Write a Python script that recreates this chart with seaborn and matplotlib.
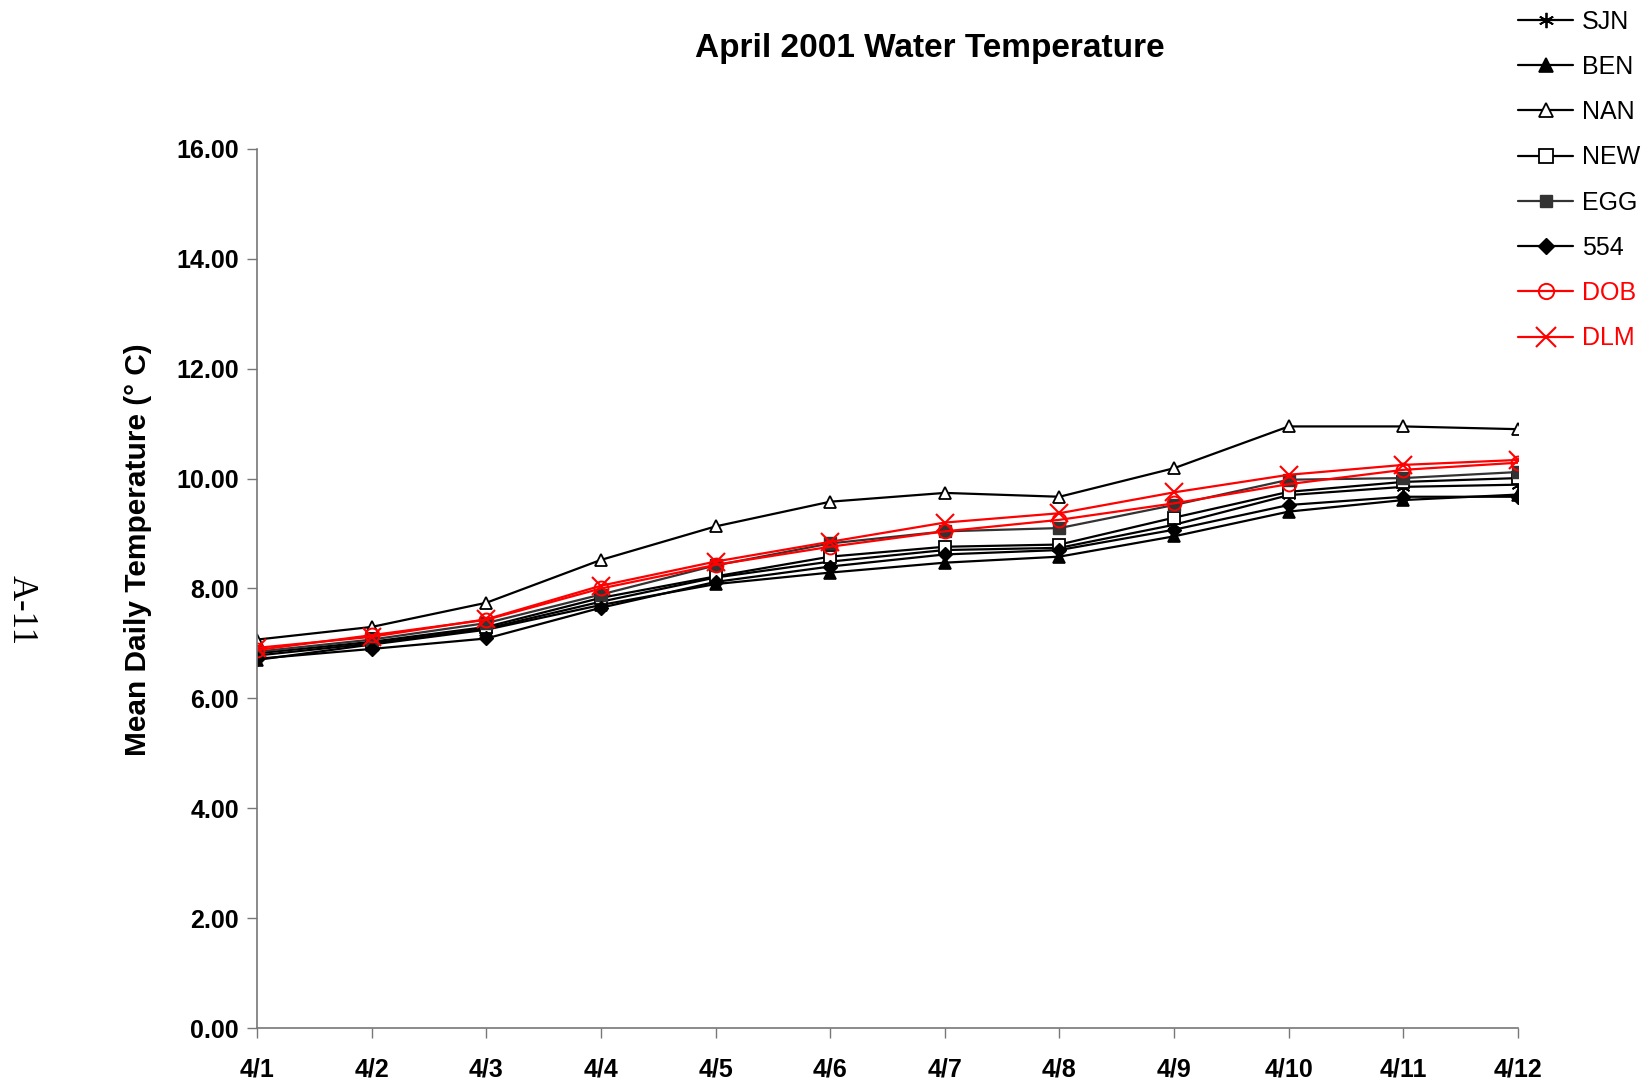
import matplotlib
matplotlib.use("Agg")
import matplotlib.pyplot as plt
import seaborn as sns
import pandas as pd

days = ["4/1", "4/2", "4/3", "4/4", "4/5", "4/6", "4/7", "4/8", "4/9", "4/10", "4/11", "4/12"]

sjn = [6.78, 7.00, 7.27, 7.76, 8.20, 8.49, 8.70, 8.74, 9.16, 9.70, 9.85, 9.89]
ben = [6.70, 6.98, 7.25, 7.70, 8.08, 8.29, 8.47, 8.58, 8.95, 9.40, 9.61, 9.71]
nan_ = [7.07, 7.30, 7.74, 8.52, 9.13, 9.58, 9.74, 9.67, 10.19, 10.95, 10.95, 10.90]
new = [6.82, 7.03, 7.30, 7.83, 8.22, 8.58, 8.76, 8.80, 9.29, 9.76, 9.94, 10.01]
egg = [6.85, 7.07, 7.37, 7.89, 8.42, 8.82, 9.04, 9.10, 9.52, 9.98, 10.01, 10.12]
s554 = [6.72, 6.90, 7.09, 7.65, 8.12, 8.40, 8.62, 8.70, 9.07, 9.52, 9.67, 9.67]
dob = [6.88, 7.15, 7.43, 8.00, 8.43, 8.76, 9.04, 9.25, 9.55, 9.90, 10.16, 10.29]
dlm = [6.92, 7.12, 7.44, 8.05, 8.49, 8.85, 9.20, 9.37, 9.75, 10.07, 10.25, 10.34]

names = ["SJN", "BEN", "NAN", "NEW", "EGG", "554", "DOB", "DLM"]
values = [sjn, ben, nan_, new, egg, s554, dob, dlm]
yticks = [0, 2, 4, 6, 8, 10, 12, 14, 16]

styles = {
    "SJN": dict(color="black", marker=(6, 2, 0), markersize=10, mfc="black", mec="black", mew=1.3),
    "BEN": dict(color="black", marker="^", markersize=9, mfc="black", mec="black", mew=1.2),
    "NAN": dict(color="black", marker="^", markersize=9, mfc="white", mec="black", mew=1.3),
    "NEW": dict(color="black", marker="s", markersize=9, mfc="white", mec="black", mew=1.3),
    "EGG": dict(color="#333333", marker="s", markersize=8, mfc="#333333", mec="#333333", mew=1.0),
    "554": dict(color="black", marker="D", markersize=7, mfc="black", mec="black", mew=1.0),
    "DOB": dict(color="red", marker="o", markersize=10, mfc="none", mec="red", mew=1.4),
    "DLM": dict(color="red", marker="x", markersize=13, mfc="red", mec="red", mew=1.5),
}

sns.set_style("white")
plt.rcParams["font.family"] = ["Liberation Sans", "DejaVu Sans"]
plt.rcParams["text.color"] = "black"
plt.rcParams["axes.labelcolor"] = "black"
plt.rcParams["xtick.color"] = "black"
plt.rcParams["ytick.color"] = "black"

fig = plt.figure(figsize=(16.47, 10.82), dpi=100)
ax = fig.add_axes([0.156, 0.0499, 0.7657, 0.8124])

for name, vals in zip(names, values):
    st = styles[name]
    df = pd.DataFrame({"day": days, "temp": vals})
    sns.lineplot(data=df, x="day", y="temp", ax=ax, label=name, sort=False,
                 color=st["color"], linewidth=1.6, marker=st["marker"],
                 markersize=st["markersize"], markerfacecolor=st["mfc"],
                 markeredgecolor=st["mec"], markeredgewidth=st["mew"])

ax.set_xlim(0, len(days) - 1)
ax.set_ylim(0, 16)
ax.set_yticks(yticks)
ax.set_yticklabels([f"{v:.2f}" for v in yticks], fontweight="bold", fontsize=18)
ax.set_xticks(range(len(days)))
ax.set_xticklabels(days, fontweight="bold", fontsize=18)
ax.tick_params(axis="both", direction="out", length=7, width=1, color="#777777", pad=6, left=True, bottom=True)
ax.tick_params(axis="x", pad=14)

for s in ["top", "right"]:
    ax.spines[s].set_visible(False)
for s in ["left", "bottom"]:
    ax.spines[s].set_color("#777777")
    ax.spines[s].set_linewidth(1.2)

ax.set_xlabel("")
ax.set_ylabel("Mean Daily Temperature (° C)", fontsize=21.5, fontweight="bold")
ax.yaxis.set_label_coords(-0.083, 0.5436)

fig.text(0.5645, 0.955, "April 2001 Water Temperature", ha="center", va="center",
         fontsize=24, fontweight="bold")

fig.text(0.013, 0.436, "A-11", rotation=-90, ha="center", va="center",
         fontsize=25, family=["Liberation Serif", "DejaVu Serif"])

ax.get_legend().remove()
handles, labels = ax.get_legend_handles_labels()
leg = fig.legend(handles, labels, loc="upper left", bbox_to_anchor=(0.9217, 0.991),
                 frameon=False, fontsize=18, labelspacing=0.85, handlelength=2.2,
                 handletextpad=0.34, borderpad=0, borderaxespad=0, markerscale=1.1)
for txt, name in zip(leg.get_texts(), labels):
    if name in ("DOB", "DLM"):
        txt.set_color("red")

fig.savefig("out.png", dpi=100)
